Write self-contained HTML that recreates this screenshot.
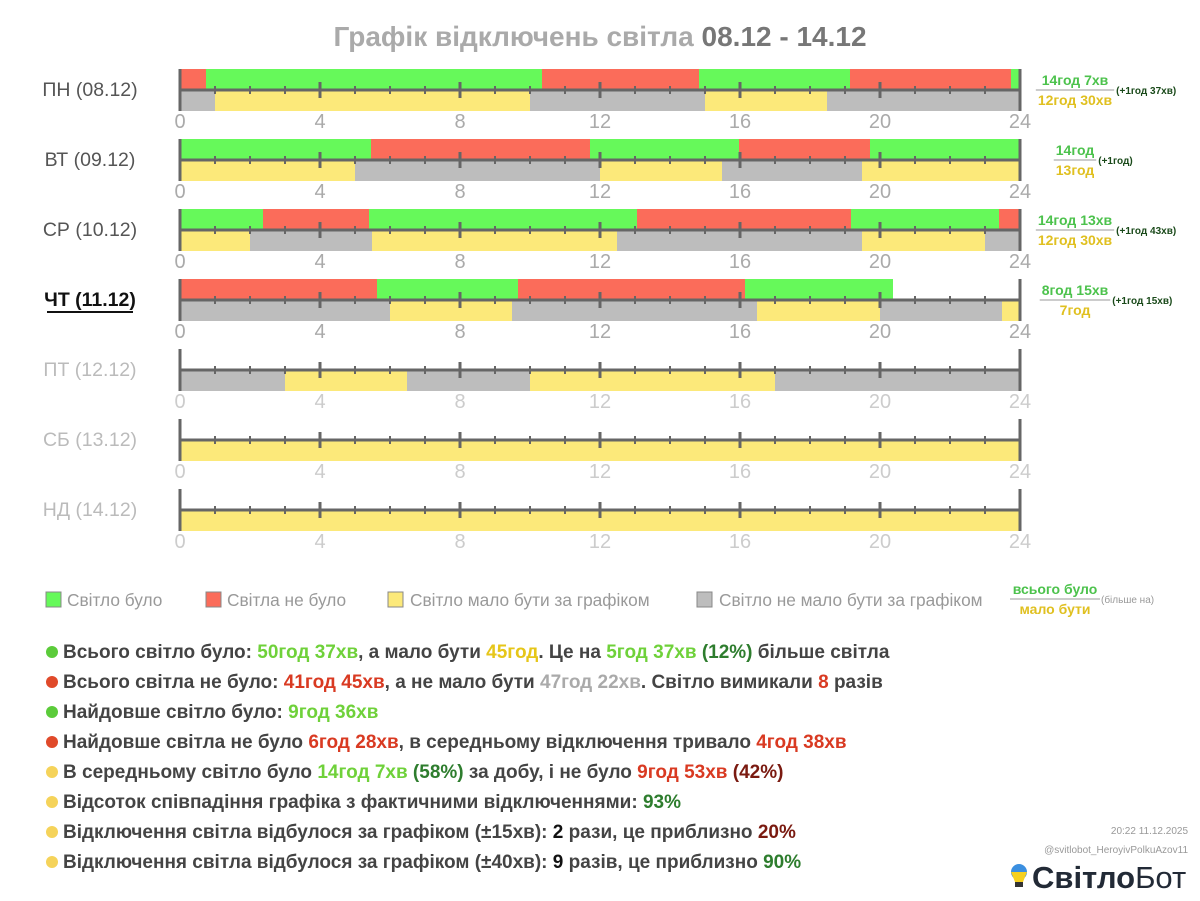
<!DOCTYPE html>
<html><head><meta charset="utf-8"><style>
body{margin:0;background:#fff;}
svg{display:block;font-family:"Liberation Sans","DejaVu Sans",sans-serif;}
</style></head><body>
<svg width="1200" height="901" viewBox="0 0 1200 901">
<text x="600" y="46" text-anchor="middle" font-size="28" font-weight="bold" fill="#aaa">Графік відключень світла <tspan fill="#777">08.12 - 14.12</tspan></text>
<g id="bars">
<rect x="180" y="69" width="26" height="21" fill="#fb6c5a"/><rect x="206" y="69" width="336" height="21" fill="#66f95a"/><rect x="542" y="69" width="157" height="21" fill="#fb6c5a"/><rect x="699" y="69" width="151" height="21" fill="#66f95a"/><rect x="850" y="69" width="161" height="21" fill="#fb6c5a"/><rect x="1011" y="69" width="9" height="21" fill="#66f95a"/>
<rect x="180" y="91" width="35" height="20" fill="#bdbdbd"/><rect x="215" y="91" width="315" height="20" fill="#fce97a"/><rect x="530" y="91" width="175" height="20" fill="#bdbdbd"/><rect x="705" y="91" width="122" height="20" fill="#fce97a"/><rect x="827" y="91" width="193" height="20" fill="#bdbdbd"/>
<rect x="180" y="139" width="191" height="21" fill="#66f95a"/><rect x="371" y="139" width="219" height="21" fill="#fb6c5a"/><rect x="590" y="139" width="149" height="21" fill="#66f95a"/><rect x="739" y="139" width="131" height="21" fill="#fb6c5a"/><rect x="870" y="139" width="150" height="21" fill="#66f95a"/>
<rect x="180" y="161" width="175" height="20" fill="#fce97a"/><rect x="355" y="161" width="245" height="20" fill="#bdbdbd"/><rect x="600" y="161" width="122" height="20" fill="#fce97a"/><rect x="722" y="161" width="140" height="20" fill="#bdbdbd"/><rect x="862" y="161" width="158" height="20" fill="#fce97a"/>
<rect x="180" y="209" width="83" height="21" fill="#66f95a"/><rect x="263" y="209" width="106" height="21" fill="#fb6c5a"/><rect x="369" y="209" width="268" height="21" fill="#66f95a"/><rect x="637" y="209" width="214" height="21" fill="#fb6c5a"/><rect x="851" y="209" width="148" height="21" fill="#66f95a"/><rect x="999" y="209" width="21" height="21" fill="#fb6c5a"/>
<rect x="180" y="231" width="70" height="20" fill="#fce97a"/><rect x="250" y="231" width="122" height="20" fill="#bdbdbd"/><rect x="372" y="231" width="245" height="20" fill="#fce97a"/><rect x="617" y="231" width="245" height="20" fill="#bdbdbd"/><rect x="862" y="231" width="123" height="20" fill="#fce97a"/><rect x="985" y="231" width="35" height="20" fill="#bdbdbd"/>
<rect x="180" y="279" width="197" height="21" fill="#fb6c5a"/><rect x="377" y="279" width="141" height="21" fill="#66f95a"/><rect x="518" y="279" width="227" height="21" fill="#fb6c5a"/><rect x="745" y="279" width="148" height="21" fill="#66f95a"/>
<rect x="180" y="301" width="210" height="20" fill="#bdbdbd"/><rect x="390" y="301" width="122" height="20" fill="#fce97a"/><rect x="512" y="301" width="245" height="20" fill="#bdbdbd"/><rect x="757" y="301" width="123" height="20" fill="#fce97a"/><rect x="880" y="301" width="122" height="20" fill="#bdbdbd"/><rect x="1002" y="301" width="18" height="20" fill="#fce97a"/>
<rect x="180" y="371" width="105" height="20" fill="#bdbdbd"/><rect x="285" y="371" width="122" height="20" fill="#fce97a"/><rect x="407" y="371" width="123" height="20" fill="#bdbdbd"/><rect x="530" y="371" width="245" height="20" fill="#fce97a"/><rect x="775" y="371" width="245" height="20" fill="#bdbdbd"/>
<rect x="180" y="441" width="840" height="20" fill="#fce97a"/>
<rect x="180" y="511" width="840" height="20" fill="#fce97a"/>
</g>
<g id="axes" stroke="#666" fill="none"></g>
<g font-size="17.3" fill="#999">
<rect x="46" y="592" width="15" height="15" fill="#66f95a" stroke="#888"/><text x="67" y="606">Світло було</text>
<rect x="206" y="592" width="15" height="15" fill="#fb6c5a" stroke="#888"/><text x="227" y="606">Світла не було</text>
<rect x="388" y="592" width="15" height="15" fill="#fce97a" stroke="#888"/><text x="410" y="606">Світло мало бути за графіком</text>
<rect x="697" y="592" width="15" height="15" fill="#bdbdbd" stroke="#888"/><text x="719" y="606">Світло не мало бути за графіком</text>
</g>
<text x="1055" y="594" font-size="14" font-weight="bold" fill="#4cc24c" text-anchor="middle">всього було</text>
<line x1="1010" y1="599" x2="1100" y2="599" stroke="#999"/>
<text x="1055" y="614" font-size="14" font-weight="bold" fill="#e0c020" text-anchor="middle">мало бути</text>
<text x="1101" y="603" font-size="10" fill="#999">(більше на)</text>
<g font-size="19" font-weight="bold" fill="#444">
<circle cx="52" cy="652" r="6" fill="#5bcb3a"/><text x="63" y="658">Всього світло було: <tspan fill="#6fd13a">50год 37хв</tspan>, а мало бути <tspan fill="#e6c619">45год</tspan>. Це на <tspan fill="#6fd13a">5год 37хв</tspan> <tspan fill="#2e7d2e">(12%)</tspan> більше світла</text>
<circle cx="52" cy="682" r="6" fill="#e04a2a"/><text x="63" y="688">Всього світла не було: <tspan fill="#d93a22">41год 45хв</tspan>, а не мало бути <tspan fill="#aaa">47год 22хв</tspan>. Світло вимикали <tspan fill="#d93a22">8</tspan> разів</text>
<circle cx="52" cy="712" r="6" fill="#5bcb3a"/><text x="63" y="718">Найдовше світло було: <tspan fill="#6fd13a">9год 36хв</tspan></text>
<circle cx="52" cy="742" r="6" fill="#e04a2a"/><text x="63" y="748">Найдовше світла не було <tspan fill="#d93a22">6год 28хв</tspan>, в середньому відключення тривало <tspan fill="#d93a22">4год 38хв</tspan></text>
<circle cx="52" cy="772" r="6" fill="#f5d35a"/><text x="63" y="778">В середньому світло було <tspan fill="#6fd13a">14год 7хв</tspan> <tspan fill="#2e7d2e">(58%)</tspan> за добу, і не було <tspan fill="#d93a22">9год 53хв</tspan> <tspan fill="#7a1a10">(42%)</tspan></text>
<circle cx="52" cy="802" r="6" fill="#f5d35a"/><text x="63" y="808">Відсоток співпадіння графіка з фактичними відключеннями: <tspan fill="#2e7d2e">93%</tspan></text>
<circle cx="52" cy="832" r="6" fill="#f5d35a"/><text x="63" y="838">Відключення світла відбулося за графіком (±15хв): <tspan fill="#111">2</tspan> рази, це приблизно <tspan fill="#7a1a10">20%</tspan></text>
<circle cx="52" cy="862" r="6" fill="#f5d35a"/><text x="63" y="868">Відключення світла відбулося за графіком (±40хв): <tspan fill="#111">9</tspan> разів, це приблизно <tspan fill="#2e7d2e">90%</tspan></text>
</g>
<text x="1188" y="834" font-size="10" fill="#999" text-anchor="end">20:22 11.12.2025</text>
<text x="1188" y="853" font-size="10" fill="#999" text-anchor="end">@svitlobot_HeroyivPolkuAzov11</text>
<circle cx="1019" cy="872" r="8" fill="#3b8fe0"/><path d="M1011 872 h16 l-4 10 h-8z" fill="#f5d020"/><rect x="1015" y="882" width="8" height="5" fill="#333"/>
<text x="1032" y="888" font-size="31" font-weight="bold" fill="#222a36">Світло<tspan font-weight="normal">Бот</tspan></text>
</svg>
<script>
(function(){
var ns="http://www.w3.org/2000/svg",svg=document.querySelector('svg'),ax=document.getElementById('axes');
var names=["ПН (08.12)","ВТ (09.12)","СР (10.12)","ЧТ (11.12)","ПТ (12.12)","СБ (13.12)","НД (14.12)"];
function el(t,a,p){var e=document.createElementNS(ns,t);for(var k in a)e.setAttribute(k,a[k]);(p||svg).appendChild(e);return e;}
for(var r=0;r<7;r++){
 var y=90+70*r;
 el('line',{x1:180,y1:y,x2:1020,y2:y,'stroke-width':3},ax);
 el('line',{x1:180,y1:y-21,x2:180,y2:y+21,'stroke-width':3},ax);
 el('line',{x1:1020,y1:y-21,x2:1020,y2:y+21,'stroke-width':3},ax);
 for(var h=1;h<24;h++){var x=180+35*h,m=h%4==0?8:4;el('line',{x1:x,y1:y-m,x2:x,y2:y+m,'stroke-width':h%4==0?3:2},ax);}
 for(var h=0;h<=24;h+=4){var t=el('text',{x:180+35*h,y:y+38,'font-size':20,fill:r<4?'#aaa':'#ccc','text-anchor':'middle'});t.textContent=h;}
 var c=r<3?'#555':(r==3?'#111':'#bbb');
 var t=el('text',{x:90,y:y+6,'font-size':19.5,fill:c,'text-anchor':'middle','font-weight':r==3?'bold':'normal'});t.textContent=names[r];
 if(r==3)el('line',{x1:47,y1:y+12,x2:133,y2:y+12,stroke:'#111','stroke-width':2});
}
var ann=[["14год 7хв","12год 30хв","(+1год 37хв)",90],["14год","13год","(+1год)",160],["14год 13хв","12год 30хв","(+1год 43хв)",230],["8год 15хв","7год","(+1год 15хв)",300]];
ann.forEach(function(a){var y=a[3];
 var t1=el('text',{x:1075,y:y-5,'font-size':14,'font-weight':'bold',fill:'#4cc24c','text-anchor':'middle'});t1.textContent=a[0];
 var t2=el('text',{x:1075,y:y+15,'font-size':14,'font-weight':'bold',fill:'#e0c020','text-anchor':'middle'});t2.textContent=a[1];
 var w=Math.max(t1.getComputedTextLength(),t2.getComputedTextLength())+4;
 el('line',{x1:1075-w/2,y1:y,x2:1075+w/2,y2:y,stroke:'#999'});
 var t3=el('text',{x:1075+w/2+2,y:y+4,'font-size':10,'font-weight':'bold',fill:'#1a4a1a'});t3.textContent=a[2];
});
})();
</script>
</body></html>
